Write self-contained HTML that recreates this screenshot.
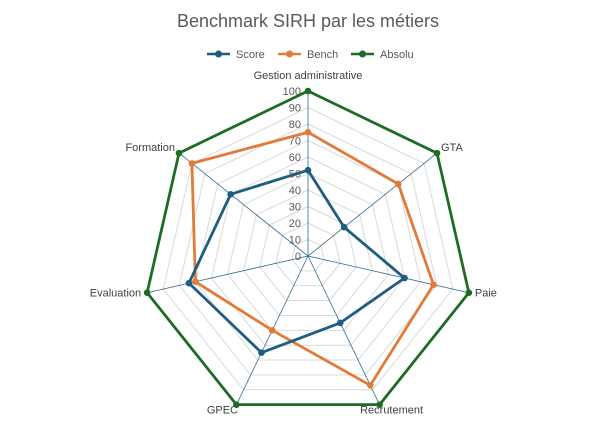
<!DOCTYPE html>
<html><head><meta charset="utf-8"><style>
html,body{margin:0;padding:0;background:#fff;}
svg{display:block;font-family:"Liberation Sans",sans-serif;}
</style></head><body>
<svg id="c" width="616" height="440" viewBox="0 0 616 440" xmlns="http://www.w3.org/2000/svg">
<rect width="616" height="440" fill="#fff"/>
<text x="308" y="27" text-anchor="middle" font-size="18" fill="#595959">Benchmark SIRH par les métiers</text>
<g font-size="11" fill="#595959">
<line x1="207" y1="54" x2="230" y2="54" stroke="#1f5c80" stroke-width="2.5"/><circle cx="218.5" cy="54" r="3.5" fill="#1f5c80"/><text x="236" y="58">Score</text>
<line x1="278" y1="54" x2="301" y2="54" stroke="#e07b39" stroke-width="2.5"/><circle cx="289.5" cy="54" r="3.5" fill="#e07b39"/><text x="307" y="58">Bench</text>
<line x1="351" y1="54" x2="374" y2="54" stroke="#1e6b25" stroke-width="2.5"/><circle cx="362.5" cy="54" r="3.5" fill="#1e6b25"/><text x="380" y="58">Absolu</text>
</g>
<g id="g"></g>
</svg>
<script>
var cx=308,cy=256,R=165,n=7,ns="http://www.w3.org/2000/svg",g=document.getElementById('g');
function pt(k,v){var a=(-90+360/n*k)*Math.PI/180;return [cx+R*v/100*Math.cos(a),cy+R*v/100*Math.sin(a)];}
function el(t,at,txt){var e=document.createElementNS(ns,t);for(var k in at)e.setAttribute(k,at[k]);if(txt!=null)e.textContent=txt;g.appendChild(e);return e;}
for(var i=1;i<=10;i++){var p=[];for(var k=0;k<n;k++)p.push(pt(k,i*10).join(','));el('polygon',{points:p.join(' '),fill:'none',stroke:'#d9d9d9','stroke-width':1});}
for(var k=0;k<n;k++){var q=pt(k,100);el('line',{x1:cx,y1:cy,x2:q[0],y2:q[1],stroke:'#2e6a8f','stroke-width':0.8});}
for(var i=0;i<=10;i++){el('text',{x:cx-7,y:cy-R*i/10+4,'text-anchor':'end','font-size':11,fill:'#595959'},i*10);}
var labels=[["Gestion administrative",0,-11,'middle'],["GTA",4,-2,'start'],["Paie",6,4,'start'],["Recrutement",6,10,'middle'],["GPEC",-4,10,'middle'],["Evaluation",-6,4,'end'],["Formation",-4,-2,'end']];
for(var k=0;k<n;k++){var q=pt(k,100),L=labels[k];var dx=L[1];if(k==3)dx=12;if(k==4)dx=-14;el('text',{x:q[0]+dx,y:q[1]+L[2]+(k==0?-1:0)+(k==3||k==4?-1:0),'text-anchor':L[3],'font-size':11,fill:'#404040'},L[0]);}
var series=[[[100,100,100,100,100,100,100],'#1e6b25'],[[75,70,78,87,50,70,90],'#e07b39'],[[52,28,60,45,65,74,60],'#1f5c80']];
series.forEach(function(s){var p=[];for(var k=0;k<n;k++)p.push(pt(k,s[0][k]));el('polygon',{points:p.map(function(a){return a.join(',')}).join(' '),fill:'none',stroke:s[1],'stroke-width':2.8,'stroke-linejoin':'round'});p.forEach(function(a){el('circle',{cx:a[0],cy:a[1],r:3.3,fill:s[1]});});});
</script>
</body></html>
